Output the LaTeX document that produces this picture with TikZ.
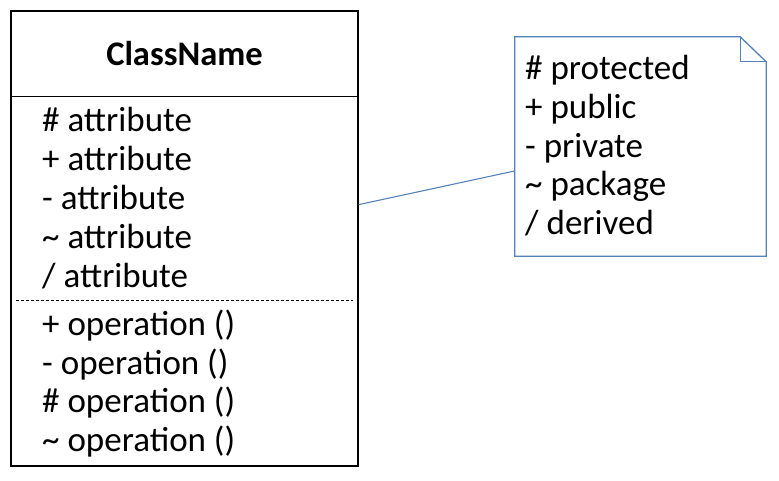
\documentclass[tikz,border=0pt]{standalone}
\usepackage{fontspec}
\setmainfont{Carlito}
\usetikzlibrary{calc}
\definecolor{noteblue}{RGB}{84,130,186}

\tikzset{
  classbox/.style={draw=black, line width=1.4pt, minimum width=347pt, minimum height=455pt, inner sep=0pt},
  member/.style={anchor=base west, inner sep=0pt, font=\fontsize{35}{40}\selectfont},
  notebox/.style={minimum width=251pt, minimum height=219pt, inner sep=0pt},
}

\begin{document}
\begin{tikzpicture}[x=1pt, y=-1pt]
  \useasboundingbox (0,0) rectangle (779,481);

  % class box
  \node[classbox] (cls) at (184.5,238.5) {};
  \draw[line width=1.2pt] ([yshift=-86pt]cls.north west) -- ([yshift=-86pt]cls.north east);
  \draw[line width=0.9pt, dash pattern=on 3pt off 2pt]
    ([xshift=6pt,yshift=-290pt]cls.north west) -- ([xshift=-6pt,yshift=-290pt]cls.north east);
  \node[font=\fontsize{34.5}{40}\selectfont\bfseries] (cname) at (184.5,54) {ClassName};

  \foreach \txt [count=\i from 0] in {\# attribute, + attribute, - attribute, \textasciitilde{} attribute, / attribute}
    \node[member] (attr\i) at (42, 132+38.9*\i) {\txt};
  \foreach \txt [count=\i from 0] in {+ operation (), - operation (), \# operation (), \textasciitilde{} operation ()}
    \node[member] (op\i) at (42, 335.5+38.7*\i) {\txt};

  % note
  \node[notebox] (note) at (640.5,146.5) {};
  \draw[noteblue, line width=1.3pt, fill=white]
    (note.north west) -- ([xshift=-26pt]note.north east) -- ([yshift=-25pt]note.north east)
    -- (note.south east) -- (note.south west) -- cycle;
  \draw[noteblue, line width=1.3pt]
    ([xshift=-26pt]note.north east) -- ([xshift=-26pt,yshift=-25pt]note.north east)
    -- ([yshift=-25pt]note.north east);
  \foreach \txt [count=\i from 0] in {\# protected, + public, - private, \textasciitilde{} package, / derived}
    \node[member] (vis\i) at (525, 79.5+38.8*\i) {\txt};

  \draw[noteblue, line width=1.1pt] (cls.11) -- (note.191);
\end{tikzpicture}
\end{document}
